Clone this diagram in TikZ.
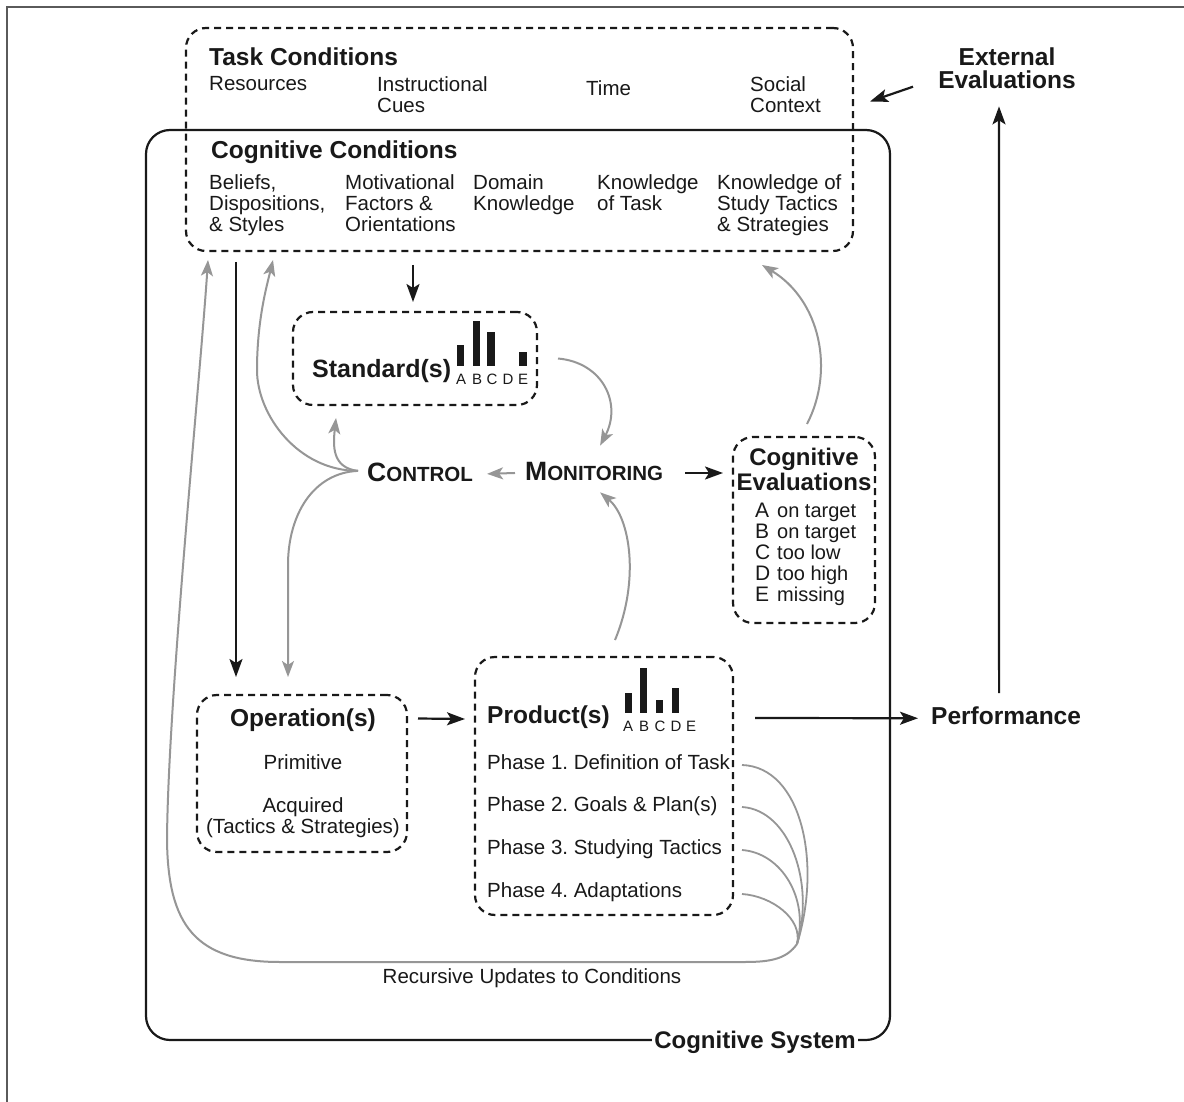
\documentclass[tikz,border=0pt]{standalone}
\usepackage{fontspec}
\setmainfont{Liberation Sans}
\usetikzlibrary{arrows.meta,calc}
\definecolor{ink}{RGB}{25,25,25}
\definecolor{arrowgray}{RGB}{150,150,150}
\definecolor{framegray}{RGB}{90,90,90}
\newcommand\fsz[2]{\fontsize{#1}{#2}\selectfont}
\newcommand\smc[2]{{\bfseries\fsz{26.5}{27}#1\fsz{20.5}{21}#2}}
\frenchspacing

\begin{document}
\begin{tikzpicture}[x=1pt,y=-1pt,
  dbox/.style={draw=ink, line width=2.2pt, dash pattern=on 7pt off 5pt,
    rounded corners=20pt, inner sep=0pt, outer sep=0pt},
  sysbox/.style={draw=ink, line width=2.2pt, rounded corners=24pt,
    inner sep=0pt, outer sep=0pt},
  blk/.style={draw=ink, line width=2.2pt, -{Stealth[length=18pt,width=13pt,inset=4pt]}},
  gry/.style={draw=arrowgray, line width=2pt, -{Stealth[length=16pt,width=12pt,inset=4pt]}},
  gline/.style={draw=arrowgray, line width=1.8pt},
  txt/.style={inner sep=0pt, text=ink, font=\fsz{20.5}{21}},
  ttl/.style={inner sep=0pt, text=ink, font=\fsz{24.5}{23}\bfseries},
  barlbl/.style={inner sep=0pt, text=ink, font=\fsz{15}{15}},
  bar/.style={fill=ink},
]
\useasboundingbox (0,0) rectangle (1184,1102);
\fill[white] (0,0) rectangle (1184,1102);

% page frame
\draw[framegray, line width=1.5pt] (7,1102) -- (7,7) -- (1184,7);

% boxes
\node[sysbox, minimum width=744pt, minimum height=910pt] (sys) at (518,585) {};
\node[dbox, minimum width=667pt, minimum height=223pt] (task) at (519.5,139.5) {};
\node[dbox, minimum width=244pt, minimum height=93pt] (std) at (415,358.5) {};
\node[dbox, minimum width=142pt, minimum height=186pt] (eval) at (804,530) {};
\node[dbox, minimum width=210pt, minimum height=157pt] (oper) at (302,773.5) {};
\node[dbox, minimum width=258pt, minimum height=258pt] (prod) at (604,786) {};

\node[ttl, font=\fsz{24}{24}\bfseries, fill=white, inner xsep=2pt, inner ysep=5pt, anchor=base]
  (syslbl) at (755,1048) {Cognitive System};

% task conditions
\node[ttl, anchor=base west] (tctitle) at (209,66) {Task Conditions};
\node[txt, align=left, anchor=north west] (res) at (209,76) {Resources};
\node[txt, align=left, anchor=north west] (instr) at (377,76) {Instructional\\Cues};
\node[txt, align=left, anchor=north west] (time) at (586,80) {Time};
\node[txt, align=left, anchor=north west] (social) at (750,76) {Social\\Context};

% cognitive conditions
\node[ttl, anchor=base west] (cctitle) at (211,159) {Cognitive Conditions};
\node[txt, align=left, anchor=north west] (beliefs) at (209,174) {Beliefs,\\Dispositions,\\\& Styles};
\node[txt, align=left, anchor=north west] (motiv) at (345,174) {Motivational\\Factors \&\\Orientations};
\node[txt, align=left, anchor=north west] (domain) at (473,174) {Domain\\Knowledge};
\node[txt, align=left, anchor=north west] (ktask) at (597,174) {Knowledge\\of Task};
\node[txt, align=left, anchor=north west] (kstudy) at (717,174) {Knowledge of\\Study Tactics\\\& Strategies};

% external evaluations and performance
\node[ttl, align=center, anchor=north] (extev) at (1007,48) {External\\Evaluations};
\node[ttl, anchor=base west] (perf) at (931,724) {Performance};

% standards
\node[ttl, font=\fsz{25}{25}\bfseries, anchor=base west] (stdt) at (312,377) {Standard(s)};
\fill[bar] (457,345) rectangle (464,366);
\fill[bar] (473,321) rectangle (480,366);
\fill[bar] (487,332) rectangle (495,366);
\fill[bar] (519,352) rectangle (527,366);
\node[barlbl, anchor=base] (sa) at (461,384) {A};
\node[barlbl, anchor=base] (sb) at (477,384) {B};
\node[barlbl, anchor=base] (sc) at (492,384) {C};
\node[barlbl, anchor=base] (sd) at (508,384) {D};
\node[barlbl, anchor=base] (se) at (523,384) {E};

% control and monitoring
\node[inner sep=0pt, text=ink, anchor=base west] (control) at (367,481) {\smc{C}{ONTROL}};
\node[inner sep=0pt, text=ink, anchor=base west] (monit) at (525,480) {\smc{M}{ONITORING}};

% cognitive evaluations
\node[ttl, font=\fsz{24}{24}\bfseries, anchor=base] (evt1) at (804,465) {Cognitive};
\node[ttl, font=\fsz{24}{24}\bfseries, anchor=base] (evt2) at (804,490) {Evaluations};
\foreach \l/\t/\yy [count=\i] in {A/on target/517, B/on target/538, C/too low/559, D/too high/580, E/missing/601}{
  \node[txt, font=\fsz{21}{21}, anchor=base west] (evl\i) at (755,\yy) {\l};
  \node[txt, font=\fsz{20}{20}, anchor=base west] (evx\i) at (777,\yy) {\t};
}

% operations
\node[ttl, anchor=base] (opt) at (303,726) {Operation(s)};
\node[txt, anchor=base] (prim) at (303,769) {Primitive};
\node[txt, anchor=base] (acq) at (303,812) {Acquired};
\node[txt, anchor=base] (tact) at (303,833) {(Tactics \& Strategies)};

% products
\node[ttl, anchor=base west] (prodt) at (487,723) {Product(s)};
\fill[bar] (625,693) rectangle (632,713);
\fill[bar] (640,668) rectangle (647,713);
\fill[bar] (656,700) rectangle (663,713);
\fill[bar] (672,688) rectangle (679,713);
\node[barlbl, anchor=base] (pa) at (628,731) {A};
\node[barlbl, anchor=base] (pb) at (644,731) {B};
\node[barlbl, anchor=base] (pc) at (660,731) {C};
\node[barlbl, anchor=base] (pd) at (676,731) {D};
\node[barlbl, anchor=base] (pe) at (691,731) {E};
\node[txt, anchor=base west] (ph1) at (487,769) {Phase 1. Definition of Task};
\node[txt, anchor=base west] (ph2) at (487,811) {Phase 2. Goals \& Plan(s)};
\node[txt, anchor=base west] (ph3) at (487,854) {Phase 3. Studying Tactics};
\node[txt, anchor=base west] (ph4) at (487,897) {Phase 4. Adaptations};

\node[txt, anchor=base] (recur) at (532,983) {Recursive Updates to Conditions};

% black connectors
\draw[blk] ($(extev.west)+(-25,18)$) -- ($(task.east)+(17,-38)$);
\draw[blk] ($(perf.north)+(-7,-13)$) -- ($(extev.south)+(-8,17)$);
\draw[blk] ($(task.south west)+(50,11)$) -- ($(oper.north west)+(39,-18)$);
\draw[blk] ($(task.south west)+(227,14)$) -- ($(std.north)+(-2,-10)$);
\draw[blk] ($(eval.west)+(-48,-57)$) -- ($(eval.west)+(-10,-57)$);
\draw[blk] ($(oper.east)+(11,-55)$) -- ($(prod.west)+(-10,-67)$);
\draw[blk] ($(prod.east)+(22,-68)$) -- ($(perf.west)+(-13,3)$);

% grey connectors
\draw[gry] ($(monit.west)+(-10,2)$) -- ($(control.east)+(14,2)$);
\coordinate (fan) at ($(control.west)+(-9,-1)$);
\draw[gry] (fan) .. controls +(-26,-3) and +(-3,28) .. ($(std.south west)+(43,13)$);
\draw[gry] (fan) .. controls +(-60,0) and +(0,45) .. ($(task.south west)+(71,119)$)
  .. controls +(0,-50) and +(-6,25) .. ($(task.south west)+(87,9)$);
\draw[gry] (fan) .. controls +(-45,2) and +(0,-50) .. ($(oper.north west)+(91,-130)$)
  -- ($(oper.north west)+(91,-18)$);
\draw[gry] ($(std.east)+(21,0)$) .. controls +(45,4) and +(22,-42) .. ($(monit.north)+(6,-16)$);
\draw[gry] ($(prod.north)+(11,-17)$) .. controls +(25,-60) and +(30,25) .. ($(monit.south)+(6,12)$);
\draw[gry] ($(eval.north)+(3,-13)$) .. controls +(28,-54) and +(58,35) .. ($(task.south east)+(-91,14)$);

% recursive updates from the phases back to the conditions
\coordinate (conv) at (797,944);
\coordinate (p1) at ($(prod.east |- ph1.base)+(9,-4)$);
\coordinate (p2) at ($(prod.east |- ph2.base)+(9,-4)$);
\coordinate (p3) at ($(prod.east |- ph3.base)+(9,-4)$);
\coordinate (p4) at ($(prod.east |- ph4.base)+(9,-3)$);
\draw[gline] (p1) .. controls +(60,2) and +(25,-80) .. (conv);
\draw[gline] (p2) .. controls +(48,3) and +(18,-60) .. (conv);
\draw[gline] (p3) .. controls +(40,3) and +(12,-45) .. (conv);
\draw[gline] (p4) .. controls +(30,2) and +(6,-25) .. (conv);
\draw[gry] (conv) .. controls +(-10,14) and +(28,0) .. (745,962) -- (280,962)
  .. controls (195,962) and (168,925) .. (167,840)
  .. controls (168,700) and (200,380) .. ($(task.south west)+(22,9)$);
\end{tikzpicture}
\end{document}
